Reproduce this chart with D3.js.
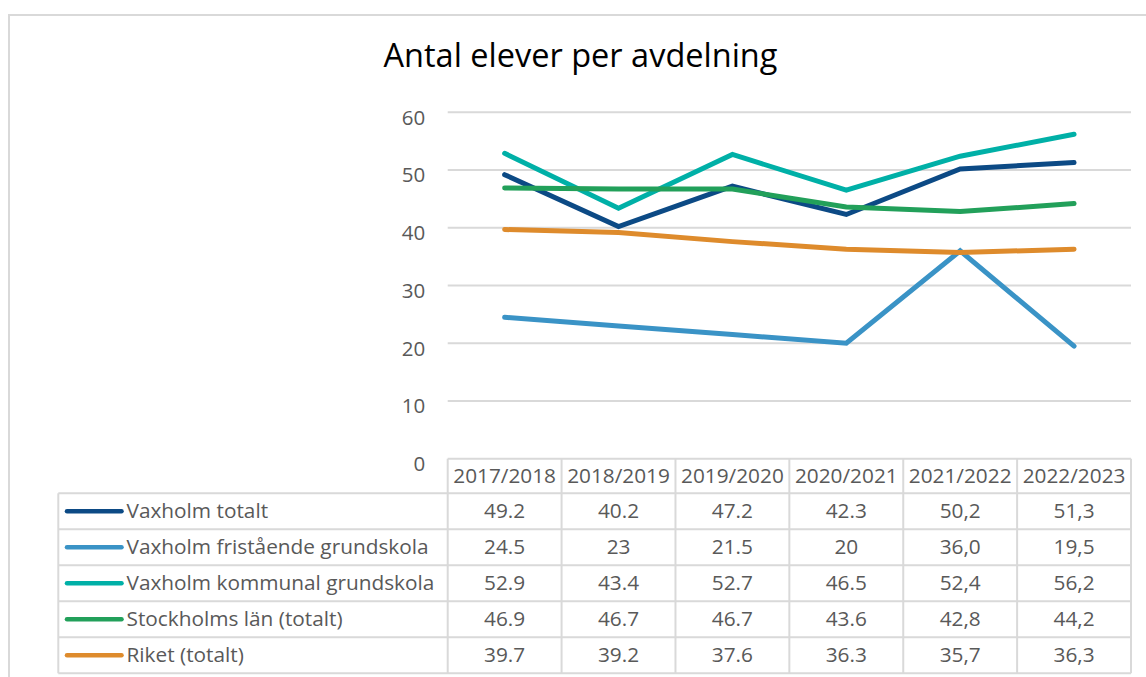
<!DOCTYPE html>
<html><head><meta charset="utf-8">
<script src="https://cdn.jsdelivr.net/npm/d3@7"></script>
<style>body{margin:0;background:#fff}svg{display:block}text{font-family:"Open Sans",sans-serif}</style>
</head><body><svg id="c" width="1146" height="677"></svg>
<script>
const title = "Antal elever per avdelning";
const categories = ["2017/2018","2018/2019","2019/2020","2020/2021","2021/2022","2022/2023"];
const seriesNames = ["Vaxholm totalt","Vaxholm fristående grundskola","Vaxholm kommunal grundskola","Stockholms län (totalt)","Riket (totalt)"];
const seriesColors = ["#0c4a85","#3a93c6","#00b0a7","#22a05a","#de8b2c"];
const vaxholmTotalt = [49.2,40.2,47.2,42.3,50.2,51.3];
const vaxholmFristaende = [24.5,23,21.5,20,36.0,19.5];
const vaxholmKommunal = [52.9,43.4,52.7,46.5,52.4,56.2];
const stockholmsLan = [46.9,46.7,46.7,43.6,42.8,44.2];
const riket = [39.7,39.2,37.6,36.3,35.7,36.3];
const tableLabels = [
  ["49.2","40.2","47.2","42.3","50,2","51,3"],
  ["24.5","23","21.5","20","36,0","19,5"],
  ["52.9","43.4","52.7","46.5","52,4","56,2"],
  ["46.9","46.7","46.7","43.6","42,8","44,2"],
  ["39.7","39.2","37.6","36.3","35,7","36,3"]
];
const yTicks = [0,10,20,30,40,50,60];
const series = [vaxholmTotalt,vaxholmFristaende,vaxholmKommunal,stockholmsLan,riket];

const svg = d3.select("#c");
const grid = "#d9d9d9", txt = "#595959";
const pLeft = 447.7, pRight = 1131, pTop = 112.3, pBottom = 458.7;
const tableLeft = 58.3, headerBottom = 493.3, rowH = 36;

svg.append("path").attr("d","M9,677 V15 H1146").attr("fill","none").attr("stroke",grid).attr("stroke-width",2);

svg.append("text").attr("x",580.5).attr("y",67).attr("text-anchor","middle")
  .attr("font-size",32.5).attr("fill","#000").text(title);

const x = d3.scaleBand().domain(categories).range([pLeft,pRight]);
const y = d3.scaleLinear().domain([0,60]).range([pBottom,pTop]);

svg.append("g").selectAll("line").data(yTicks.filter(d=>d>0)).join("line")
  .attr("x1",pLeft).attr("x2",pRight).attr("y1",d=>y(d)).attr("y2",d=>y(d))
  .attr("stroke",grid).attr("stroke-width",2);

const ya = svg.append("g").attr("transform",`translate(${pLeft-22.5},0)`)
  .call(d3.axisLeft(y).tickValues(yTicks).tickSize(0).tickPadding(0));
ya.select(".domain").remove();
ya.selectAll("text").attr("font-size",20.5).attr("fill",txt).attr("font-family","Open Sans").attr("dy","0.58em");

const line = d3.line().x((d,i)=>x(categories[i])+x.bandwidth()/2).y(d=>y(d));
series.forEach((s,i)=>{
  svg.append("path").datum(s).attr("d",line).attr("fill","none")
    .attr("stroke",seriesColors[i]).attr("stroke-width",5)
    .attr("stroke-linecap","round").attr("stroke-linejoin","miter");
});

const tg = svg.append("g");
const tableBottom = headerBottom + rowH*seriesNames.length;
tg.append("line").attr("x1",pLeft).attr("x2",pRight).attr("y1",pBottom).attr("y2",pBottom).attr("stroke",grid).attr("stroke-width",2);
for(let r=0;r<=seriesNames.length;r++){
  const yy = headerBottom + r*rowH;
  tg.append("line").attr("x1",tableLeft).attr("x2",pRight).attr("y1",yy).attr("y2",yy).attr("stroke",grid).attr("stroke-width",2);
}
tg.append("line").attr("x1",tableLeft).attr("x2",tableLeft).attr("y1",headerBottom).attr("y2",tableBottom).attr("stroke",grid).attr("stroke-width",2);
const xs = categories.map(c=>x(c)).concat([pRight]);
xs.forEach(xx=>tg.append("line").attr("x1",xx).attr("x2",xx).attr("y1",pBottom).attr("y2",tableBottom).attr("stroke",grid).attr("stroke-width",2));

tg.selectAll("text.h").data(categories).join("text").attr("class","h")
  .attr("x",d=>x(d)+x.bandwidth()/2).attr("y",(pBottom+headerBottom)/2+6.5)
  .attr("text-anchor","middle").attr("font-size",20.8).attr("fill",txt).text(d=>d);

seriesNames.forEach((n,r)=>{
  const cy = headerBottom + r*rowH + rowH/2;
  tg.append("line").attr("x1",67).attr("x2",121.5).attr("y1",cy).attr("y2",cy)
    .attr("stroke",seriesColors[r]).attr("stroke-width",4.5).attr("stroke-linecap","round");
  tg.append("text").attr("x",126.5).attr("y",cy+7).attr("font-size",20.8).attr("fill",txt).text(n);
  tableLabels[r].forEach((v,i)=>{
    tg.append("text").attr("x",x(categories[i])+x.bandwidth()/2).attr("y",cy+7)
      .attr("text-anchor","middle").attr("font-size",20.8).attr("fill",txt).text(v);
  });
});
</script></body></html>
